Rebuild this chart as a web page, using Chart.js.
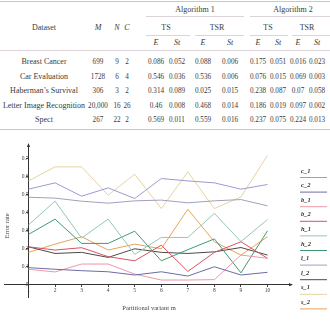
<!DOCTYPE html>
<html>
<head>
<meta charset="utf-8">
<script src="https://cdn.jsdelivr.net/npm/chart.js@4.4.0/dist/chart.umd.min.js"></script>
<style>
  html, body { margin: 0; padding: 0; background: #fff; }
  body { width: 330px; height: 321px; position: relative; overflow: hidden;
         font-family: 'Liberation Serif', 'DejaVu Serif', serif; color: #3a3a3a; }
  #tbl { position: absolute; left: 0; top: 0; width: 330px; height: 132px; }
  .t { position: absolute; font-size: 8px; line-height: 10px; white-space: nowrap; transform: translate(-50%, -50%); }
  .n { font-size: 7.2px; }
  .i { font-style: italic; }
  .rule { position: absolute; height: 0; border-top: 1px solid #dcd4d8; }
  #wrap { position: absolute; left: 0; top: 135px; width: 330px; height: 186px; }
</style>
</head>
<body>
<div id="tbl"></div>
<div id="wrap"><canvas id="myChart" width="330" height="186"></canvas></div>
<script>
// table data
var datasetNames = ['Breast Cancer', 'Car Evaluation', 'Haberman\u2019s Survival', 'Letter Image Recognition', 'Spect'];
var colM = ['699', '1728', '306', '20,000', '267'];
var colN = ['9', '6', '3', '16', '22'];
var colC = ['2', '4', '2', '26', '2'];
var alg1TsE = ['0.086', '0.546', '0.314', '0.46', '0.569'];
var alg1TsSt = ['0.052', '0.036', '0.089', '0.008', '0.011'];
var alg1TsrE = ['0.088', '0.536', '0.025', '0.468', '0.559'];
var alg1TsrSt = ['0.006', '0.006', '0.015', '0.014', '0.016'];
var alg2TsE = ['0.175', '0.076', '0.238', '0.186', '0.237'];
var alg2TsSt = ['0.051', '0.015', '0.087', '0.019', '0.075'];
var alg2TsrE = ['0.016', '0.069', '0.07', '0.097', '0.224'];
var alg2TsrSt = ['0.023', '0.003', '0.058', '0.002', '0.013'];

// chart data
var variants = [1, 2, 3, 4, 5, 6, 7, 8, 9, 10];
var seriesNames = ['c_1', 'c_2', 'b_1', 'b_2', 'h_1', 'h_2', 'l_1', 'l_2', 's_1', 's_2'];
var c1 = [0.532, 0.567, 0.493, 0.539, 0.480, 0.591, 0.578, 0.567, 0.532, 0.558];
var c2 = [0.095, 0.086, 0.078, 0.072, 0.054, 0.072, 0.048, 0.100, 0.054, 0.069];
var b1 = [0.086, 0.071, 0.115, 0.115, 0.059, 0.026, 0.026, 0.028, 0.165, 0.147];
var b2 = [0.211, 0.193, 0.206, 0.156, 0.133, 0.220, 0.074, 0.180, 0.239, 0.147];
var h1 = [0.333, 0.465, 0.260, 0.365, 0.169, 0.263, 0.263, 0.397, 0.240, 0.363];
var h2 = [0.280, 0.365, 0.230, 0.230, 0.298, 0.133, 0.195, 0.255, 0.066, 0.300];
var l1 = [0.487, 0.482, 0.465, 0.454, 0.467, 0.471, 0.456, 0.467, 0.474, 0.439];
var l2 = [0.211, 0.174, 0.180, 0.152, 0.200, 0.180, 0.174, 0.183, 0.207, 0.165];
var s1 = [0.578, 0.656, 0.656, 0.498, 0.615, 0.424, 0.628, 0.424, 0.489, 0.720];
var s2 = [0.180, 0.226, 0.267, 0.193, 0.226, 0.200, 0.420, 0.239, 0.165, 0.267];
var yTicks = [0, 0.1, 0.2, 0.3, 0.4, 0.5, 0.6, 0.7];

var seriesColors = ['#9c9ad0', '#6c6ca6', '#ec98a6', '#d9515f', '#94c6b6', '#3f9a74',
                    '#a2a0ba', '#4a4a4a', '#e6d49c', '#e9a257'];

// --- table ---
var tbl = document.getElementById('tbl');
function put(text, x, y, cls) {
    var d = document.createElement('div');
    d.className = 't' + (cls ? ' ' + cls : '');
    d.textContent = text;
    d.style.left = x + 'px';
    d.style.top = y + 'px';
    tbl.appendChild(d);
}
function rule(x1, x2, y, color) {
    var d = document.createElement('div');
    d.className = 'rule';
    d.style.left = x1 + 'px';
    d.style.width = (x2 - x1) + 'px';
    d.style.top = y + 'px';
    if (color) d.style.borderTopColor = color;
    tbl.appendChild(d);
}
var colX = [44, 98, 117, 127, 156, 177, 203, 230, 258, 278, 298, 317];
var rowY = [62, 77, 91, 105.5, 120];

rule(0, 330, 1, '#e2bcc4');
put('Algorithm 1', 195, 10);
put('Algorithm 2', 293, 10);
rule(146, 244, 16);
rule(250, 330, 16);
put('Dataset', colX[0], 28);
put('M', colX[1], 28, 'i');
put('N', colX[2], 28, 'i');
put('C', colX[3], 28, 'i');
put('TS', 166, 28);
put('TSR', 217, 28);
put('TS', 268, 28);
put('TSR', 307, 28);
rule(146, 190, 35);
rule(195, 244, 35);
rule(250, 288, 35);
rule(292, 330, 35);
['E', 'St', 'E', 'St', 'E', 'St', 'E', 'St'].forEach(function (s, k) {
    put(s, colX[4 + k], 43, 'i');
});
rule(0, 330, 50);
var cols = [datasetNames, colM, colN, colC, alg1TsE, alg1TsSt, alg1TsrE, alg1TsrSt,
            alg2TsE, alg2TsSt, alg2TsrE, alg2TsrSt];
for (var r = 0; r < datasetNames.length; r++) {
    for (var c = 0; c < cols.length; c++) {
        put(cols[c][r], colX[c], rowY[r], c > 0 ? 'n' : '');
    }
}
rule(0, 330, 129, '#e2bcc4');

// --- chart ---
var serif = "'Liberation Serif', 'DejaVu Serif', serif";
var allSeries = [c1, c2, b1, b2, h1, h2, l1, l2, s1, s2];

var extras = {
    id: 'extras',
    afterDraw: function (chart) {
        var g = chart.ctx;
        var a = chart.chartArea;
        var xs = chart.scales.x, ys = chart.scales.y;
        var x0 = xs.getPixelForValue(1), y0 = ys.getPixelForValue(0);
        g.save();
        g.fillStyle = '#333';
        // arrow heads
        g.beginPath();
        g.moveTo(a.right + 3, y0); g.lineTo(a.right - 1, y0 - 1.6); g.lineTo(a.right - 1, y0 + 1.6);
        g.fill();
        g.beginPath();
        g.moveTo(x0, a.top - 3); g.lineTo(x0 - 1.6, a.top + 1); g.lineTo(x0 + 1.6, a.top + 1);
        g.fill();
        // axis titles
        g.fillStyle = '#444';
        g.font = '6.5px ' + serif;
        g.textAlign = 'center';
        g.textBaseline = 'middle';
        g.fillText('Partitional variant m', 149, 173);
        g.save();
        g.translate(7, 91);
        g.rotate(-Math.PI / 2);
        g.fillText('Error rate', 0, 0);
        g.restore();
        // legend
        g.textAlign = 'left';
        g.font = 'italic bold 6.5px ' + serif;
        chart.data.datasets.forEach(function (ds, i) {
            var ty = 36 + 14.6 * i;
            g.fillStyle = '#333';
            g.fillText(ds.label, 301, ty);
            g.strokeStyle = ds.borderColor;
            g.lineWidth = 1;
            g.beginPath();
            g.moveTo(300, ty + 6.5); g.lineTo(327, ty + 6.5);
            g.stroke();
        });
        g.restore();
    }
};

var ctx = document.getElementById('myChart');
var myChart = new Chart(ctx, {
    type: 'line',
    data: {
        labels: variants,
        datasets: allSeries.map(function (vals, i) {
            return {
                label: seriesNames[i],
                data: vals,
                borderColor: seriesColors[i],
                borderWidth: 1,
                pointRadius: 0,
                fill: false,
                tension: 0
            };
        })
    },
    options: {
        responsive: false,
        animation: false,
        maintainAspectRatio: false,
        layout: { padding: { left: 4, right: 40, top: 11, bottom: 24 } },
        plugins: { legend: { display: false }, tooltip: { enabled: false } },
        scales: {
            x: {
                type: 'linear',
                position: { y: 0 },
                min: 0.0774,
                max: 10.847,
                afterBuildTicks: function (s) { s.ticks = variants.map(function (v) { return { value: v }; }); },
                grid: { drawOnChartArea: false, drawTicks: true, tickLength: 2, color: '#444' },
                border: { display: true, color: '#333', width: 1 },
                ticks: { font: { family: serif, size: 5.5 }, color: '#444', padding: 1, maxRotation: 0 }
            },
            y: {
                type: 'linear',
                position: { x: 1 },
                min: -0.0685,
                max: 0.7723,
                afterBuildTicks: function (s) { s.ticks = yTicks.map(function (v) { return { value: v }; }); },
                grid: { drawOnChartArea: false, drawTicks: true, tickLength: 2, color: '#444' },
                border: { display: true, color: '#333', width: 1 },
                ticks: { font: { family: serif, size: 5.5 }, color: '#444', padding: 1,
                         callback: function (v) { return v === 0 ? '0' : v.toFixed(1); } }
            }
        }
    },
    plugins: [extras]
});
</script>
</body>
</html>
